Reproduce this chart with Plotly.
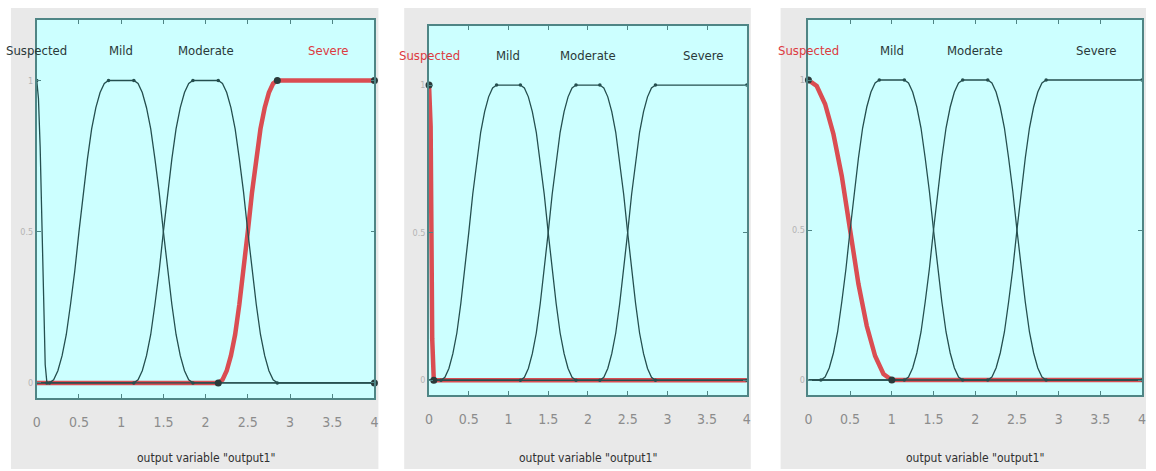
import plotly.graph_objects as go

# ---------------- data ----------------
mf_names = ["Suspected", "Mild", "Moderate", "Severe"]
x_ticks = [0, 0.5, 1, 1.5, 2, 2.5, 3, 3.5, 4]
x_tick_text = ["0", "0.5", "1", "1.5", "2", "2.5", "3", "3.5", "4"]
y_ticks = [0, 0.5, 1]
y_tick_text = ["0", "0.5", "1"]

mild_x = [0, 0.15, 0.2, 0.25, 0.3, 0.35, 0.4, 0.45, 0.5, 0.55, 0.6, 0.65, 0.7, 0.75, 0.8, 0.85,
          1.15, 1.2, 1.25, 1.3, 1.35, 1.4, 1.45, 1.5, 1.55, 1.6, 1.65, 1.7, 1.75, 1.8, 1.85, 4]
mild_y = [0, 0, 0.01, 0.04, 0.09, 0.16, 0.26, 0.37, 0.5, 0.63, 0.74, 0.84, 0.91, 0.96, 0.99, 1,
          1, 0.99, 0.96, 0.91, 0.84, 0.74, 0.63, 0.5, 0.37, 0.26, 0.16, 0.09, 0.04, 0.01, 0, 0]
moderate_x = [0, 1.15, 1.2, 1.25, 1.3, 1.35, 1.4, 1.45, 1.5, 1.55, 1.6, 1.65, 1.7, 1.75, 1.8, 1.85,
              2.15, 2.2, 2.25, 2.3, 2.35, 2.4, 2.45, 2.5, 2.55, 2.6, 2.65, 2.7, 2.75, 2.8, 2.85, 4]
moderate_y = [0, 0, 0.01, 0.04, 0.09, 0.16, 0.26, 0.37, 0.5, 0.63, 0.74, 0.84, 0.91, 0.96, 0.99, 1,
              1, 0.99, 0.96, 0.91, 0.84, 0.74, 0.63, 0.5, 0.37, 0.26, 0.16, 0.09, 0.04, 0.01, 0, 0]
severe_x = [0, 2.15, 2.2, 2.25, 2.3, 2.35, 2.4, 2.45, 2.5, 2.55, 2.6, 2.65, 2.7, 2.75, 2.8, 2.85, 4]
severe_y = [0, 0, 0.01, 0.04, 0.09, 0.16, 0.26, 0.37, 0.5, 0.63, 0.74, 0.84, 0.91, 0.96, 0.99, 1, 1]

# Suspected differs in each of the three panels
susp1_x = [0, 0.02, 0.04, 0.06, 0.08, 0.1, 0.12, 4]
susp1_y = [1, 0.94, 0.78, 0.5, 0.22, 0.06, 0, 0]
susp2_x = [0, 0.02, 0.04, 0.06, 4]
susp2_y = [1, 0.86, 0.14, 0, 0]
susp3_x = [0, 0.1, 0.2, 0.3, 0.4, 0.5, 0.6, 0.7, 0.8, 0.9, 1.0, 4]
susp3_y = [1, 0.98, 0.92, 0.82, 0.68, 0.5, 0.32, 0.18, 0.08, 0.02, 0, 0]

# parameter (break) points shown as dots
mild_pts_x = [0.15, 0.85, 1.15, 1.85]
mild_pts_y = [0, 1, 1, 0]
moderate_pts_x = [1.15, 1.85, 2.15, 2.85]
moderate_pts_y = [0, 1, 1, 0]
severe_pts_x = [2.15, 2.85, 4, 4]
severe_pts_y = [0, 1, 1, 0]
susp1_pts_x = [0, 0.12]
susp1_pts_y = [1, 0]
susp2_pts_x = [0, 0.06]
susp2_pts_y = [1, 0]
susp3_pts_x = [0, 1.0]
susp3_pts_y = [1, 0]

selected = ["Severe", "Suspected", "Suspected"]
label_x = [0, 1, 2, 3.45]

# ---------------- style ----------------
FONT = "DejaVu Sans Condensed, Liberation Sans Narrow, sans-serif"
GREY = "#e9e9e9"
CYAN = "#ccffff"
DARK = "#254f4f"
RED = "#dc3a40"
AXIS = "#4f8585"

W, H = 1156, 471
# plot-area pixel boxes (left, right, top, bottom) and grey panel boxes
plot_px = [(33, 373, 20, 398), (428, 748, 26, 395), (810, 1146, 20, 395)]
panel_px = [(7, 377, 8, 469), (403, 752, 8, 469), (782, 1150, 8, 469)]

panels = [
    {"Suspected": (susp1_x, susp1_y, susp1_pts_x, susp1_pts_y)},
    {"Suspected": (susp2_x, susp2_y, susp2_pts_x, susp2_pts_y)},
    {"Suspected": (susp3_x, susp3_y, susp3_pts_x, susp3_pts_y)},
]
common = {
    "Mild": (mild_x, mild_y, mild_pts_x, mild_pts_y),
    "Moderate": (moderate_x, moderate_y, moderate_pts_x, moderate_pts_y),
    "Severe": (severe_x, severe_y, severe_pts_x, severe_pts_y),
}

fig = go.Figure()
shapes = []
annotations = []

for i in range(3):
    sfx = "" if i == 0 else str(i + 1)
    xa, ya = "x" + sfx, "y" + sfx
    mfs = dict(panels[i])
    mfs.update(common)
    sel = selected[i]
    # selected (red, thick) first, black curves drawn over it
    order = [sel] + [n for n in mf_names if n != sel]
    for name in order:
        xs, ys, px, py = mfs[name]
        is_sel = name == sel
        fig.add_trace(go.Scatter(
            x=xs, y=ys, mode="lines", xaxis=xa, yaxis=ya,
            line=dict(color=RED if is_sel else DARK,
                      width=4.5 if is_sel else 1.3),
            opacity=0.9 if is_sel else 1.0,
            showlegend=False, hoverinfo="skip", cliponaxis=False))
    for name in order:
        xs, ys, px, py = mfs[name]
        is_sel = name == sel
        fig.add_trace(go.Scatter(
            x=px, y=py, mode="markers", xaxis=xa, yaxis=ya,
            marker=dict(color="#2a3a3a" if is_sel else DARK,
                        size=7 if is_sel else 3.5,
                        line=dict(width=0)),
            showlegend=False, hoverinfo="skip", cliponaxis=False))

    l, r, t, b = plot_px[i]
    dom_x = [l / W, r / W]
    dom_y = [1 - b / H, 1 - t / H]
    axis_common = dict(showgrid=False, zeroline=False, showline=True,
                       linecolor=AXIS, linewidth=1.5, mirror="allticks",
                       ticks="inside", ticklen=4, tickcolor=AXIS, tickwidth=1)
    fig.update_layout(**{
        ("xaxis" + sfx): dict(domain=dom_x, range=[0, 4], anchor=ya,
                              tickvals=x_ticks, ticktext=x_tick_text,
                              tickfont=dict(family=FONT, size=14, color="#8c8c8c"),
                              ticklabelstandoff=10, **axis_common),
        ("yaxis" + sfx): dict(domain=dom_y, range=[-0.05, 1.2], anchor=xa,
                              tickvals=y_ticks, ticktext=y_tick_text,
                              tickfont=dict(family=FONT, size=9, color="#b4b4b4"),
                              **axis_common),
    })
    pl, pr, pt, pb = panel_px[i]
    shapes.append(dict(type="rect", xref="paper", yref="paper",
                       x0=pl / W, x1=pr / W, y0=1 - pb / H, y1=1 - pt / H,
                       fillcolor=GREY, line=dict(width=0), layer="below"))
    # cyan plot area
    shapes.append(dict(type="rect", xref=xa + " domain", yref=ya + " domain",
                       x0=0, x1=1, y0=0, y1=1,
                       fillcolor=CYAN, line=dict(width=0), layer="below"))
    for name, lx in zip(mf_names, label_x):
        annotations.append(dict(
            x=lx, y=1.1, xref=xa, yref=ya, text=name, showarrow=False,
            xanchor="center", yanchor="middle",
            font=dict(family=FONT, size=13,
                      color=RED if name == sel else "#2a3838")))
    annotations.append(dict(
        x=(l + r) / 2 / W, y=1 - 458 / H, xref="paper", yref="paper",
        text='output variable "output1"', showarrow=False,
        xanchor="center", yanchor="middle",
        font=dict(family=FONT, size=12, color="#303030")))

fig.update_layout(
    width=W, height=H, margin=dict(l=0, r=0, t=0, b=0),
    paper_bgcolor="white", plot_bgcolor="rgba(0,0,0,0)",
    shapes=shapes, annotations=annotations, showlegend=False)

fig.write_html("out.html", config={"displayModeBar": False},
               post_script="document.body.style.margin='0';document.body.style.overflow='hidden';")
